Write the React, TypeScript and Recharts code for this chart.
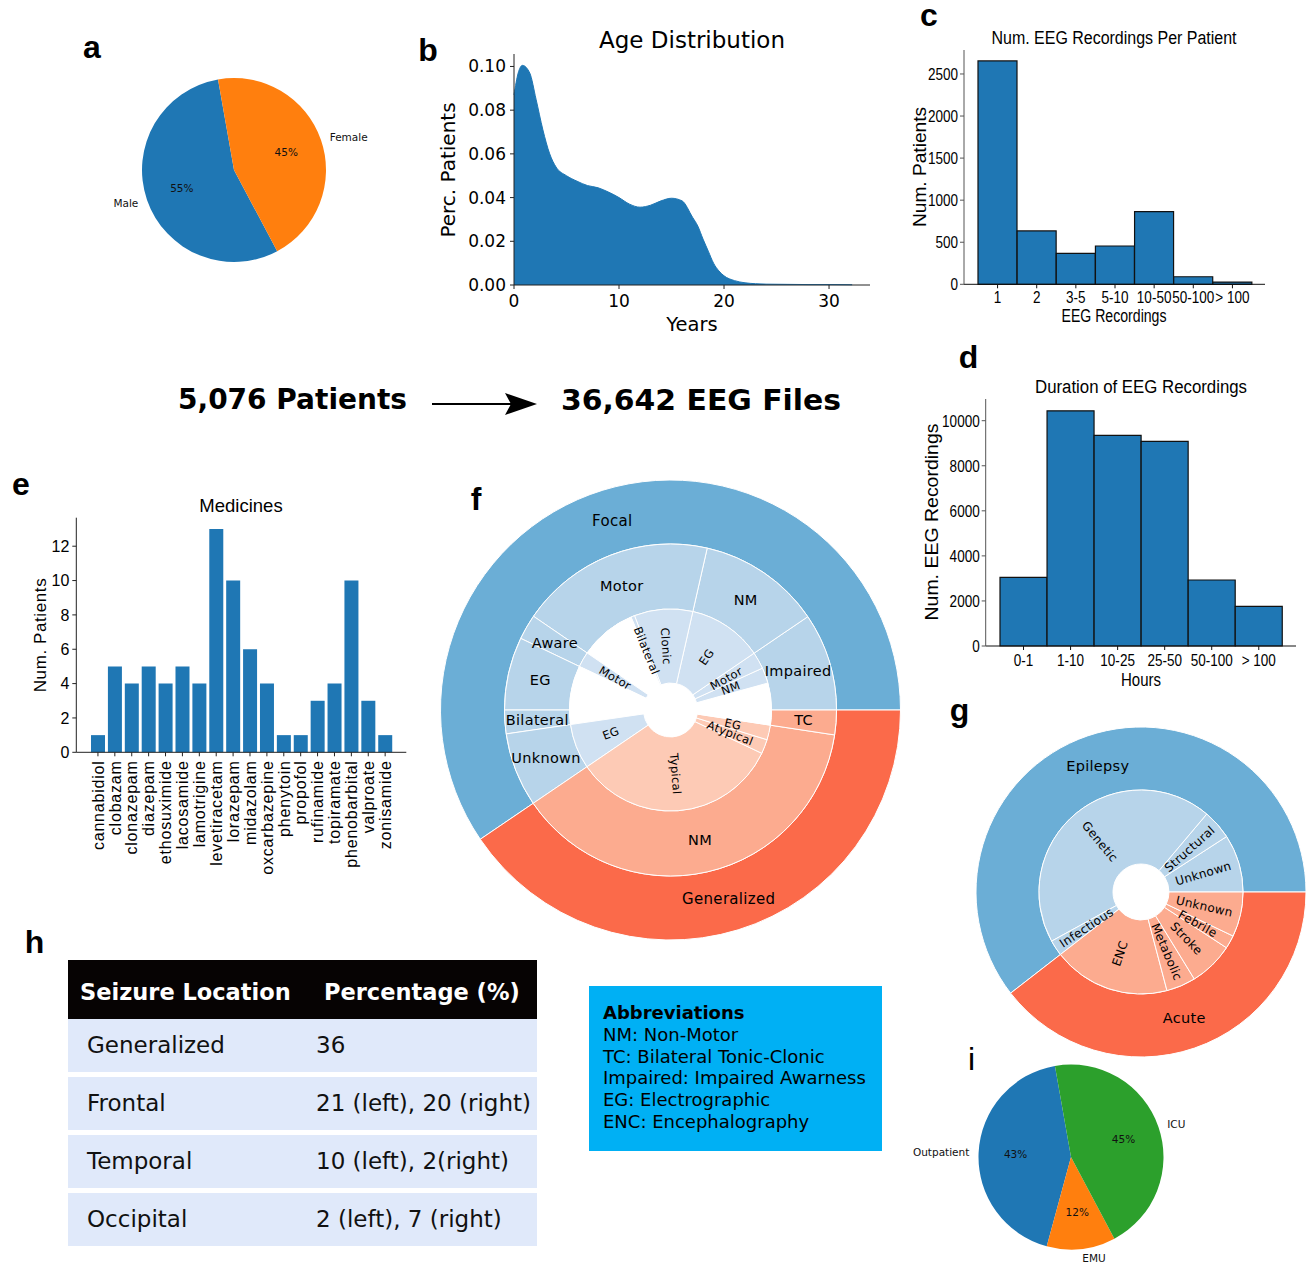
import React from "react";
import { Area, AreaChart, Bar, BarChart, Cell, Pie, PieChart, XAxis, YAxis } from "recharts";

const DJ = '"DejaVu Sans", sans-serif';
const ARIAL = '"Liberation Sans", Arial, sans-serif';
const RAD = Math.PI / 180;

// a: sex of patients
const sexLabels = ["Male", "Female"];
const sexShare = [55, 45];

// b: age density (KDE)
const ageYears = [0, 0.4, 0.8, 1.5, 2.1, 2.75, 3.4, 4, 5, 6, 7, 8, 9, 10, 11, 12, 13, 14, 15, 16, 17, 17.5, 18, 18.5, 19, 19.5, 20, 21, 22, 23, 24, 26, 28, 30, 32.2];
const ageDensity = [0.087, 0.097, 0.1005, 0.097, 0.085, 0.071, 0.06, 0.054, 0.05, 0.0475, 0.0455, 0.0445, 0.0425, 0.04, 0.037, 0.0356, 0.0365, 0.0385, 0.0397, 0.0385, 0.031, 0.027, 0.021, 0.0155, 0.01, 0.0065, 0.0042, 0.002, 0.001, 0.0006, 0.0004, 0.0003, 0.0002, 0.0002, 0.0001];

// c: recordings per patient
const recCountBins = ["1", "2", "3-5", "5-10", "10-50", "50-100", "> 100"];
const recCountPatients = [2655, 634, 368, 455, 863, 90, 27];

// d: duration of recordings
const durationBins = ["0-1", "1-10", "10-25", "25-50", "50-100", "> 100"];
const durationRecordings = [3050, 10440, 9350, 9085, 2930, 1760];

// e: medicines
const medicines = ["cannabidiol", "clobazam", "clonazepam", "diazepam", "ethosuximide", "lacosamide", "lamotrigine", "levetiracetam", "lorazepam", "midazolam", "oxcarbazepine", "phenytoin", "propofol", "rufinamide", "topiramate", "phenobarbital", "valproate", "zonisamide"];
const medicinePatients = [1, 5, 4, 5, 4, 5, 4, 13, 10, 6, 4, 1, 1, 3, 4, 10, 3, 1];

// f: seizure types, shares in %, counter-clockwise from 3 o'clock
const seizureClass = ["Focal", "Generalized"];
const seizureClassShare = [59.5, 40.5];
const seizureTypes = ["Impaired", "NM", "Motor", "Aware", "EG", "Bilateral", "Unknown", "NM", "TC"];
const seizureTypeGroup = ["Focal", "Focal", "Focal", "Focal", "Focal", "Focal", "Focal", "Generalized", "Generalized"];
const seizureTypeShare = [9.5, 11.95, 19.0, 2.45, 7.1, 2.3, 7.2, 38.1, 2.4];
const seizureSubtypes = ["", "NM", "Motor", "EG", "Clonic", "Bilateral", "", "Motor", "", "EG", "Typical", "Atypical", "EG", ""];
const seizureSubtypeGroup = ["Focal", "Focal", "Focal", "Focal", "Focal", "Focal", "Focal", "Focal", "Focal", "Focal", "Generalized", "Generalized", "Generalized", "Generalized"];
const seizureSubtypeShare = [4.3, 2.5, 2.7, 11.95, 9.35, 0.6, 9.05, 2.45, 9.4, 7.2, 33.45, 2.3, 2.35, 2.4];

// g: etiology
const etiologyClass = ["Epilepsy", "Acute"];
const etiologyClassShare = [60.5, 39.5];
const etiologyCauses = ["Unknown", "Structural", "Genetic", "Infectious", "ENC", "Metabolic", "Stroke", "Febrile", "Unknown"];
const etiologyCauseGroup = ["Epilepsy", "Epilepsy", "Epilepsy", "Epilepsy", "Acute", "Acute", "Acute", "Acute", "Acute"];
const etiologyCauseShare = [9.15, 4.7, 44.15, 2.5, 18.6, 4.65, 7.05, 2.1, 7.1];

// h: seizure location table
const seizureLocations = ["Generalized", "Frontal", "Temporal", "Occipital"];
const locationPercent = ["36", "21 (left), 20 (right)", "10 (left), 2(right)", "2 (left), 7 (right)"];

// i: care setting
const careLocations = ["Outpatient", "EMU", "ICU"];
const careShare = [43, 12, 45];

const abbreviations = ["NM: Non-Motor", "TC: Bilateral Tonic-Clonic", "Impaired: Impaired Awarness", "EG: Electrographic", "ENC: Encephalography"];
const patientsTotal = "5,076 Patients";
const filesTotal = "36,642 EEG Files";

const SHADES: Record<string, string[]> = {
  Focal: ["#6baed6", "#b7d4ea", "#d0e1f2"],
  Generalized: ["#fb6a4a", "#fcab8f", "#fdcab5"],
  Epilepsy: ["#6baed6", "#b7d4ea", "#d0e1f2"],
  Acute: ["#fb6a4a", "#fcab8f", "#fdcab5"],
};

const ageData = ageYears.map((x, i) => ({ x, density: ageDensity[i] }));
const recData = recCountBins.map((bin, i) => ({ bin, patients: recCountPatients[i] }));
const durData = durationBins.map((bin, i) => ({ bin, recordings: durationRecordings[i] }));
const medData = medicines.map((name, i) => ({ name, patients: medicinePatients[i] }));
const sexData = sexLabels.map((name, i) => ({ name, value: sexShare[i] }));
const careData = careLocations.map((name, i) => ({ name, value: careShare[i] }));
const fOuter = seizureClass.map((name, i) => ({ name, value: seizureClassShare[i], group: name }));
const fMid = seizureTypes.map((name, i) => ({ name, value: seizureTypeShare[i], group: seizureTypeGroup[i] }));
const fInner = seizureSubtypes.map((name, i) => ({ name, value: seizureSubtypeShare[i], group: seizureSubtypeGroup[i] }));
const gOuter = etiologyClass.map((name, i) => ({ name, value: etiologyClassShare[i], group: name }));
const gInner = etiologyCauses.map((name, i) => ({ name, value: etiologyCauseShare[i], group: etiologyCauseGroup[i] }));

const pieLabel = (props: any) => {
  const { cx, cy, midAngle, outerRadius, name, percent } = props;
  const c = Math.cos(-midAngle * RAD);
  const s = Math.sin(-midAngle * RAD);
  const style = { fontSize: 10.5, fontFamily: DJ, fill: "#111" };
  return (
    <g>
      <text x={cx + outerRadius * 1.1 * c} y={cy + outerRadius * 1.1 * s} textAnchor={c >= 0 ? "start" : "end"} dominantBaseline="central" style={style}>
        {name}
      </text>
      <text x={cx + outerRadius * 0.6 * c} y={cy + outerRadius * 0.6 * s} textAnchor="middle" dominantBaseline="central" style={style}>
        {Math.round(percent * 100)}%
      </text>
    </g>
  );
};

const ringLabel = (fontSize: number, radial: boolean) => (props: any) => {
  const { cx, cy, midAngle, innerRadius, outerRadius, name } = props;
  if (!name) return null;
  const r = (innerRadius + outerRadius) / 2;
  const x = cx + r * Math.cos(-midAngle * RAD);
  const y = cy + r * Math.sin(-midAngle * RAD);
  let rot = 0;
  if (radial) {
    const a = ((midAngle % 360) + 360) % 360;
    rot = a > 90 && a < 270 ? 180 - a : -a;
  }
  return (
    <text x={x} y={y} textAnchor="middle" dominantBaseline="central" transform={radial ? `rotate(${rot} ${x} ${y})` : undefined} style={{ fontSize, fontFamily: DJ, fill: "#000", letterSpacing: 0.3 }}>
      {name}
    </text>
  );
};

function MedicineTick(props: any) {
  const { x, y, payload } = props;
  return (
    <text x={x} y={y} dx={-2} dy="0.36em" transform={`rotate(-90 ${x} ${y})`} textAnchor="end" style={{ fontSize: 16, fontFamily: ARIAL, letterSpacing: 0.8, fill: "#000" }}>
      {payload.value}
    </text>
  );
}

// condensed look for panels c and d: Liberation Sans squeezed horizontally
function NarrowXTick(props: any) {
  const { x, y, payload } = props;
  return (
    <text transform={`translate(${x} ${y}) scale(0.82 1)`} textAnchor="middle" dy="0.75em" style={{ fontSize: 16.5, fontFamily: ARIAL, fill: "#000" }}>
      {payload.value}
    </text>
  );
}

function NarrowYTick(props: any) {
  const { x, y, payload } = props;
  return (
    <text transform={`translate(${x} ${y}) scale(0.82 1)`} textAnchor="end" dy="0.36em" style={{ fontSize: 16.5, fontFamily: ARIAL, fill: "#000" }}>
      {payload.value}
    </text>
  );
}

const ringFill = (d: { name: string; group: string }, level: number) => (d.name ? SHADES[d.group][level] : "#fff");

function Sunburst({ rings, cx, cy, width, height }: { rings: { data: any[]; inner: number; outer: number; font: number; radial: boolean }[]; cx: number; cy: number; width: number; height: number }) {
  return (
    <PieChart width={width} height={height} margin={{ top: 0, right: 0, bottom: 0, left: 0 }}>
      {rings.map((ring, level) => (
        <Pie
          key={level}
          data={ring.data}
          dataKey="value"
          nameKey="name"
          cx={cx}
          cy={cy}
          innerRadius={ring.inner}
          outerRadius={ring.outer}
          startAngle={0}
          endAngle={360}
          stroke="#fff"
          strokeWidth={1}
          label={ringLabel(ring.font, ring.radial)}
          labelLine={false}
          isAnimationActive={false}
        >
          {ring.data.map((d, i) => (
            <Cell key={i} fill={ringFill(d, level)} />
          ))}
        </Pie>
      ))}
    </PieChart>
  );
}

const abs = (left: number, top: number): React.CSSProperties => ({ position: "absolute", left, top });
const noMargin = { top: 0, right: 0, bottom: 0, left: 0 };

export default function App() {
  return (
    <div style={{ position: "absolute", left: 0, top: 0, width: 1307, height: 1263, background: "#fff", overflow: "hidden" }}>
      {/* a */}
      <div style={abs(100, 60)}>
        <PieChart width={290} height={220} margin={noMargin}>
          <Pie data={sexData} dataKey="value" nameKey="name" cx={134} cy={110} outerRadius={92} startAngle={100} endAngle={460} stroke="none" label={pieLabel} labelLine={false} isAnimationActive={false}>
            <Cell fill="#1f77b4" />
            <Cell fill="#ff7f0e" />
          </Pie>
        </PieChart>
      </div>

      {/* b */}
      <div style={abs(430, 20)}>
        <AreaChart width={450} height={320} data={ageData} margin={{ top: 34, right: 10, bottom: 0, left: 0 }}>
          <XAxis type="number" dataKey="x" domain={[0, 33.9]} ticks={[0, 10, 20, 30]} height={55} tickSize={4} tickMargin={6} stroke="#222" tick={{ fontSize: 17, fill: "#000", fontFamily: DJ }} />
          <XAxis xAxisId="top" orientation="top" type="number" dataKey="x" domain={[0, 33.9]} height={0} tick={false} tickLine={false} stroke="#222" />
          <YAxis type="number" domain={[0, 0.1057]} ticks={[0, 0.02, 0.04, 0.06, 0.08, 0.1]} width={84} tickSize={4} tickMargin={4} stroke="#222" tickFormatter={(v: number) => v.toFixed(2)} tick={{ fontSize: 17, fill: "#000", fontFamily: DJ }} />
          <YAxis yAxisId="right" orientation="right" domain={[0, 0.1057]} width={0} tick={false} tickLine={false} stroke="#222" />
          <Area type="monotone" dataKey="density" fill="#1f77b4" fillOpacity={1} stroke="#1f77b4" strokeWidth={1} dot={false} isAnimationActive={false} />
        </AreaChart>
      </div>

      {/* c */}
      <div style={abs(900, 0)}>
        <BarChart width={407} height={340} data={recData} margin={{ top: 50, right: 42, bottom: 0, left: 0 }} barCategoryGap={0}>
          <XAxis dataKey="bin" interval={0} height={55.7} padding={{ left: 14, right: 13 }} tickSize={4} tickMargin={2} stroke="#111" tick={<NarrowXTick />} />
          <XAxis xAxisId="top" orientation="top" dataKey="bin" height={0} tick={false} tickLine={false} stroke="#555" />
          <YAxis domain={[0, 2785]} ticks={[0, 500, 1000, 1500, 2000, 2500]} width={64} tickSize={4} tickMargin={2} stroke="#555" tick={<NarrowYTick />} />
          <YAxis yAxisId="right" orientation="right" width={0} tick={false} tickLine={false} stroke="#555" />
          <Bar dataKey="patients" fill="#1f77b4" stroke="#111" strokeWidth={1.2} isAnimationActive={false} />
        </BarChart>
      </div>

      {/* d */}
      <div style={abs(900, 340)}>
        <BarChart width={407} height={360} data={durData} margin={{ top: 59, right: 11, bottom: 0, left: 0 }} barCategoryGap={0}>
          <XAxis dataKey="bin" interval={0} height={54} padding={{ left: 14.3, right: 13.7 }} tickSize={4} tickMargin={4} stroke="#111" tick={<NarrowXTick />} />
          <XAxis xAxisId="top" orientation="top" dataKey="bin" height={0} tick={false} tickLine={false} stroke="#555" />
          <YAxis domain={[0, 10963]} ticks={[0, 2000, 4000, 6000, 8000, 10000]} width={85.7} tickSize={4} tickMargin={2} stroke="#555" tick={<NarrowYTick />} />
          <YAxis yAxisId="right" orientation="right" width={0} tick={false} tickLine={false} stroke="#555" />
          <Bar dataKey="recordings" fill="#1f77b4" stroke="#111" strokeWidth={1.2} isAnimationActive={false} />
        </BarChart>
      </div>

      {/* e */}
      <div style={abs(0, 470)}>
        <BarChart width={420} height={420} data={medData} margin={{ top: 47.7, right: 13.7, bottom: 0, left: 0 }} barCategoryGap="9%">
          <XAxis dataKey="name" interval={0} height={137.7} padding={{ left: 13.2, right: 12.7 }} tickSize={4} tickMargin={2} stroke="#222" tick={<MedicineTick />} />
          <XAxis xAxisId="top" orientation="top" dataKey="name" height={0} tick={false} tickLine={false} stroke="#555" />
          <YAxis domain={[0, 13.66]} ticks={[0, 2, 4, 6, 8, 10, 12]} width={76.3} tickSize={4} tickMargin={3} stroke="#222" tick={{ fontSize: 16, fill: "#000", fontFamily: ARIAL }} />
          <YAxis yAxisId="right" orientation="right" width={0} tick={false} tickLine={false} stroke="#555" />
          <Bar dataKey="patients" fill="#1f77b4" isAnimationActive={false} />
        </BarChart>
      </div>

      {/* f */}
      <div style={abs(430, 475)}>
        <Sunburst
          width={481}
          height={470}
          cx={240.5}
          cy={235}
          rings={[
            { data: fOuter, inner: 166, outer: 230, font: 15, radial: false },
            { data: fMid, inner: 101, outer: 166, font: 14.5, radial: false },
            { data: fInner, inner: 27, outer: 101, font: 11.5, radial: true },
          ]}
        />
      </div>

      {/* g */}
      <div style={abs(960, 720)}>
        <Sunburst
          width={347}
          height={340}
          cx={181}
          cy={172}
          rings={[
            { data: gOuter, inner: 102, outer: 165, font: 14.5, radial: false },
            { data: gInner, inner: 28, outer: 102, font: 12, radial: true },
          ]}
        />
      </div>

      {/* i */}
      <div style={abs(900, 1055)}>
        <PieChart width={300} height={208} margin={noMargin}>
          <Pie data={careData} dataKey="value" nameKey="name" cx={171} cy={102} outerRadius={92.5} startAngle={100} endAngle={460} stroke="none" label={pieLabel} labelLine={false} isAnimationActive={false}>
            <Cell fill="#1f77b4" />
            <Cell fill="#ff7f0e" />
            <Cell fill="#2ca02c" />
          </Pie>
        </PieChart>
      </div>

      {/* h: table */}
      <div style={{ ...abs(68, 960), width: 469, fontFamily: DJ, fontSize: 23 }}>
        <div style={{ height: 59, background: "#060303", color: "#fff", fontWeight: "bold", display: "flex", alignItems: "center", paddingTop: 4, boxSizing: "border-box" }}>
          <span style={{ position: "absolute", left: 12, fontSize: 22.5 }}>Seizure Location</span>
          <span style={{ position: "absolute", left: 256, fontSize: 22.5 }}>Percentage (%)</span>
        </div>
        {seizureLocations.map((loc, i) => (
          <div key={loc} style={{ height: 52.5, marginTop: i === 0 ? 0 : 5.5, background: "#e0e9fa", position: "relative", display: "flex", alignItems: "center", color: "#111" }}>
            <span style={{ position: "absolute", left: 19 }}>{loc}</span>
            <span style={{ position: "absolute", left: 248 }}>{locationPercent[i]}</span>
          </div>
        ))}
      </div>

      {/* abbreviations */}
      <div style={{ ...abs(589, 986), width: 293, height: 165, background: "#00b0f4", boxSizing: "border-box", padding: "16px 0 0 14px", fontFamily: DJ, fontSize: 18, lineHeight: "21.75px", color: "#000" }}>
        <div style={{ fontWeight: "bold" }}>Abbreviations</div>
        {abbreviations.map((a) => (
          <div key={a}>{a}</div>
        ))}
      </div>

      {/* overlay texts */}
      <svg width={1307} height={1263} style={{ position: "absolute", left: 0, top: 0, pointerEvents: "none" }}>
        <g style={{ fontFamily: ARIAL, fontWeight: "bold", fontSize: 32 }} textAnchor="middle" fill="#000">
          <text x={92} y={58}>a</text>
          <text x={428} y={61}>b</text>
          <text x={929} y={26}>c</text>
          <text x={968.5} y={368}>d</text>
          <text x={21} y={495}>e</text>
          <text x={476} y={510}>f</text>
          <text x={959.5} y={721}>g</text>
          <text x={34.5} y={953}>h</text>
        </g>
        <text x={971.5} y={1070} textAnchor="middle" style={{ fontFamily: ARIAL, fontSize: 32 }}>i</text>

        <g style={{ fontFamily: DJ }} fill="#000" textAnchor="middle" dominantBaseline="central">
          <text x={692} y={40} fontSize={23}>Age Distribution</text>
          <text x={692} y={324} fontSize={19.5}>Years</text>
          <text x={448} y={170} fontSize={20} transform="rotate(-90 448 170)">Perc. Patients</text>
        </g>

        <g style={{ fontFamily: ARIAL }} fill="#000" textAnchor="middle" dominantBaseline="central">
          <text x={1114} y={38} fontSize={18} textLength={245} lengthAdjust="spacingAndGlyphs">Num. EEG Recordings Per Patient</text>
          <text x={1114} y={316} fontSize={17.5} textLength={105} lengthAdjust="spacingAndGlyphs">EEG Recordings</text>
          <text x={920} y={167} fontSize={17.5} textLength={120} lengthAdjust="spacingAndGlyphs" transform="rotate(-90 920 167)">Num. Patients</text>
          <text x={1141} y={387} fontSize={18} textLength={212} lengthAdjust="spacingAndGlyphs">Duration of EEG Recordings</text>
          <text x={1141} y={680} fontSize={17.5} textLength={40} lengthAdjust="spacingAndGlyphs">Hours</text>
          <text x={931.5} y={522} fontSize={17.5} textLength={197} lengthAdjust="spacingAndGlyphs" transform="rotate(-90 931.5 522)">Num. EEG Recordings</text>
          <text x={241} y={505} fontSize={18.5}>Medicines</text>
          <text x={40} y={635} fontSize={17} letterSpacing={0.6} transform="rotate(-90 40 635)">Num. Patients</text>
        </g>

        <g style={{ fontFamily: DJ, fontWeight: "bold" }} fill="#000" dominantBaseline="central">
          <text x={178} y={399} fontSize={28} textLength={229} lengthAdjust="spacingAndGlyphs">{patientsTotal}</text>
          <text x={561} y={400} fontSize={29} textLength={280} lengthAdjust="spacingAndGlyphs">{filesTotal}</text>
        </g>
        <line x1={432} y1={404} x2={512} y2={404} stroke="#000" strokeWidth={2} />
        <polygon points="505,393 537,404 505,415 511,404" fill="#000" />
      </svg>
    </div>
  );
}
